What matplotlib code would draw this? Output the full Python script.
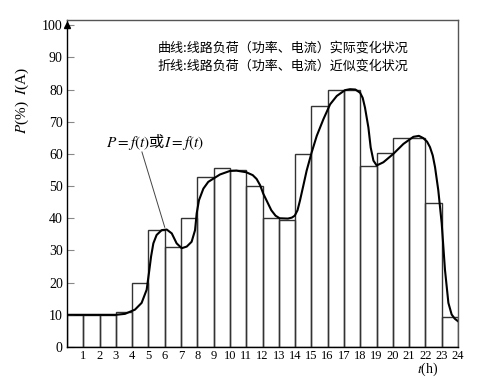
import matplotlib.pyplot as plt

plt.rcParams['mathtext.fontset'] = 'stix'

# hourly step values (left edge hour -> load %)
hours = list(range(24))
step_load = [10, 10, 10, 11, 20, 36.3, 31.2, 40, 52.8, 55.5, 55.0, 50.1,
             40, 39.6, 60, 75, 80, 80, 56.1, 60.3, 65, 65, 44.8, 9.4]

curve_t = [0, 1, 2, 3, 3.56, 4.17, 4.58, 4.89, 5.03, 5.16, 5.3, 5.5, 5.81,
           6.12, 6.43, 6.73, 7.04, 7.35, 7.65, 7.86, 7.96, 8.1, 8.37, 8.67,
           8.98, 9.39, 10.0, 10.4, 11.0, 11.4, 11.64, 11.85, 12.05, 12.3,
           12.54, 12.8, 13.05, 13.56, 13.8, 13.98, 14.15, 14.3, 14.5, 14.71,
           15.02, 15.33, 15.74, 16.15, 16.56, 17.06, 17.37, 17.7, 17.99,
           18.15, 18.29, 18.5, 18.64, 18.81, 19.01, 19.42, 20.03, 20.65,
           21.26, 21.6, 21.87, 22.1, 22.28, 22.45, 22.59, 22.79, 23.0, 23.2,
           23.41, 23.61, 23.8, 24.0]
curve_v = [10, 10, 10, 10, 10.3, 11.6, 13.7, 17.8, 23, 28.1, 32.2, 34.8,
           36.3, 36.5, 35.3, 32.2, 30.7, 31.2, 32.7, 36.3, 41.5, 45.6, 49.2,
           51.3, 52.3, 53.6, 54.7, 54.8, 54.3, 53.4, 52.2, 50.3, 47.6, 45,
           42.5, 40.8, 40.0, 39.9, 40.2, 40.8, 42.5, 45.5, 50, 54.8, 60.5,
           65.6, 70.8, 75.4, 78, 79.8, 80.1, 80.0, 79.0, 77.4, 74.4, 68.2,
           62, 57.9, 56.4, 57.4, 60, 63.1, 65.3, 65.6, 64.9, 63.8, 62.1,
           59.5, 55.9, 48.7, 38.4, 24, 13.7, 10.1, 8.8, 8.0]

y_ticks = list(range(0, 101, 10))
x_ticks = list(range(1, 25))

cjk = ['Noto Sans CJK SC', 'DejaVu Sans']
serif = 'Liberation Serif'

fig = plt.figure(figsize=(4.78, 3.79), dpi=100)
ax = fig.add_axes([67 / 478, 32 / 379, (458 - 67) / 478, (347 - 20) / 379])

ax.bar(hours, step_load, width=1, align='edge', fill=False,
       edgecolor='#333333', linewidth=1.0)
ax.plot(curve_t, curve_v, color='black', linewidth=1.5,
        solid_joinstyle='round')

ax.set_xlim(0, 24)
ax.set_ylim(0, 101.6)
ax.set_xticks(x_ticks)
ax.set_xticklabels([str(h) for h in x_ticks], fontfamily=serif, fontsize=9)
ax.set_yticks(y_ticks)
ax.set_yticklabels([str(v) for v in y_ticks], fontfamily=serif, fontsize=10)
ax.tick_params(axis='x', length=0, pad=2)
ax.tick_params(axis='y', direction='in', length=5, color='#888888', pad=3)
for sp in ax.spines.values():
    sp.set_color('#555555')
    sp.set_linewidth(1.0)
ax.spines['left'].set_color('black')
ax.spines['bottom'].set_color('black')

# arrow on the y axis
ax.plot(0, 100, marker='^', color='black', markersize=4, clip_on=False)

ax.text(0.232, 0.905, '曲线:线路负荷（功率、电流）实际变化状况',
        transform=ax.transAxes, family=cjk, fontsize=9.4)
ax.text(0.232, 0.848, '折线:线路负荷（功率、电流）近似变化状况',
        transform=ax.transAxes, family=cjk, fontsize=9.4)

ax.text(5.4, 63.8, '$P=f(t)$或$I=f(t)$', ha='center', va='center',
        family=cjk, fontsize=11)
ax.plot([4.6, 6.0], [60.6, 37.2], color='#444444', linewidth=0.7)

fig.text(22 / 478, 1 - 100 / 379, '$P$(%)  $I$(A)', rotation=90,
         ha='center', va='center', fontfamily=serif, fontsize=11)
fig.text(428 / 478, 1 / 379, '$t$(h)', ha='center', va='bottom',
         fontfamily=serif, fontsize=10)

fig.savefig('out.png', dpi=100)
